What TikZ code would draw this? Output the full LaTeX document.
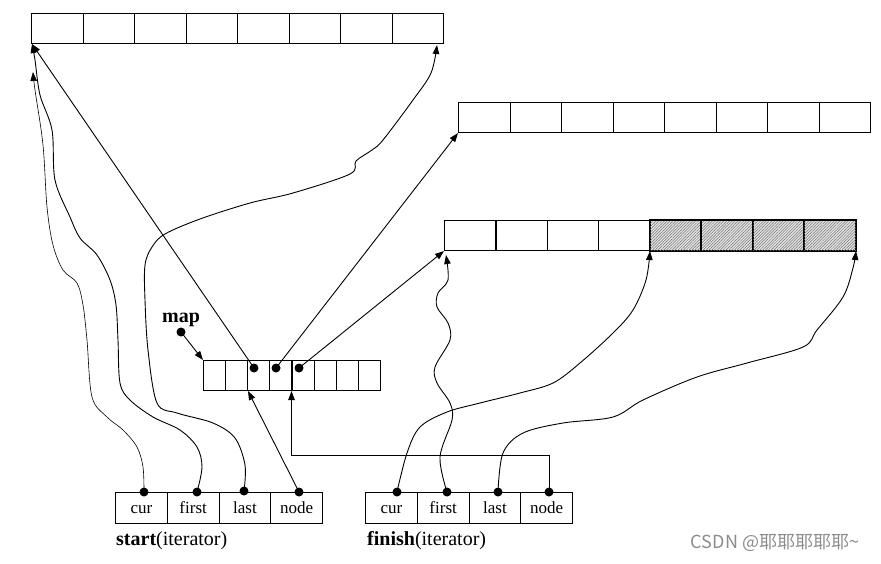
\documentclass[tikz,border=0pt]{standalone}
\usepackage{fontspec}
\setmainfont{Liberation Serif}
\newfontfamily\cjkfont{Noto Sans CJK SC}
\usetikzlibrary{arrows.meta,patterns.meta}
\begin{document}
\begin{tikzpicture}[x=1pt,y=-1pt,
  cell/.style={draw,line width=1.1pt,inner sep=0pt,anchor=north west,minimum height=30pt},
  bigcell/.style={cell,minimum width=51.5pt},
  mapcell/.style={cell,minimum width=22.1pt},
  itcell/.style={cell,minimum width=51.75pt,minimum height=31pt,text height=12pt,text depth=1pt,font=\fontsize{17}{19}\selectfont},
  hatch/.style={pattern={Lines[angle=45,distance=2pt,line width=0.5pt]},pattern color=black!55},
  tip/.style={-{Triangle[length=9pt,width=6.5pt]}},
  link/.style={line width=0.9pt,tip},
  thinlink/.style={line width=0.6pt,tip},
  dot/.style={fill=black,circle,inner sep=0pt,minimum size=9pt},
  lab/.style={font=\fontsize{20}{22}\selectfont,inner sep=0pt}
]
\useasboundingbox (0,0) rectangle (881,563);
% buffers
\foreach \i in {1,...,8}{
  \node[bigcell] (a\i) at ({31+51.5*(\i-1)},13) {};
  \node[bigcell] (b\i) at ({458+51.5*(\i-1)},102) {};
}
\foreach \i in {1,...,4}{
  \node[bigcell,minimum width=51.4pt] (c\i) at ({444+51.4*(\i-1)},220) {};
}
\foreach \i in {5,...,8}{
  \node[bigcell,minimum width=51.4pt,fill=black!10] (c\i) at ({444+51.4*(\i-1)},220) {};
  \fill[hatch] (c\i.north west) rectangle (c\i.south east);
  \draw[line width=1.1pt] (c\i.north west) rectangle (c\i.south east);
}
% map
\foreach \i in {1,...,8}{
  \node[mapcell] (m\i) at ({203+22.1*(\i-1)},360) {};
}
% iterators
\foreach \t [count=\i] in {cur,first,last,node}{
  \node[itcell] (s\i) at ({115+51.75*(\i-1)},492) {\t};
  \node[itcell] (f\i) at ({365+51.75*(\i-1)},492) {\t};
}
\node[lab,anchor=base west] (slab) at (116,545) {\textbf{start}(iterator)};
\node[lab,anchor=base west] (flab) at (367,545) {\textbf{finish}(iterator)};
\node[lab,font=\fontsize{20}{22}\selectfont\bfseries] (maplab) at (181,320) {map};
\node[inner sep=0pt,text=black!45,font=\fontsize{18}{20}\cjkfont] (wm) at (775,543) {CSDN @耶耶耶耶耶\textasciitilde};
% dots
\node[dot] (mapdot) at (181,332) {};
\node[dot] (d3) at (254,368) {};
\node[dot] (d4) at (276,368) {};
\node[dot] (d5) at (299,368) {};
\node[dot] (sd1) at (144,492) {};
\node[dot] (sd2) at (197,492) {};
\node[dot] (sd3) at (244,491) {};
\node[dot] (sd4) at (299,492) {};
\node[dot] (fd1) at (397,492) {};
\node[dot] (fd2) at (447,492) {};
\node[dot] (fd3) at (498,492) {};
\node[dot] (fd4) at (549,492) {};
% arrow targets
\coordinate (a1bl) at (32,44);
\coordinate (a1lo) at (33,72);
\coordinate (a8br) at (437,45);
\coordinate (b1bl) at (458,133);
\coordinate (c1bl) at (444,251);
\coordinate (c1lo) at (446,255);
\coordinate (c4br) at (650,251);
\coordinate (c8br) at (856,251);
\coordinate (mapc) at (203,360);
\coordinate (mb23) at (248,391);
\coordinate (mb45) at (291.5,391);
\coordinate (elbow) at (549,455);
% straight connectors
\draw[link] (mapdot.center) -- (mapc);
\draw[link] (d3.center) -- (a1bl);
\draw[link] (d4.center) -- (b1bl);
\draw[link] (d5.center) -- (c1bl);
\draw[link] (sd4.center) -- (mb23);
\draw[link] (fd4.center) -- (elbow) -| (mb45);
% wavy curves from start
\draw[thinlink] plot[smooth,tension=0.55] coordinates {(sd1.center) (143,467) (137,447) (123,430) (107,417) (92,397) (87,340) (83,305) (77,283) (63,270) (53,245) (47,207) (43,145) (35,90) (a1lo)};
\draw[link] plot[smooth,tension=0.55] coordinates {(sd2.center) (202,467) (197,447) (180,430) (153,417) (130,400) (120,383) (118,340) (116,305) (110,280) (97,255) (80,238) (70,217) (55,180) (52,130) (40,95) (35,60) (a1bl)};
\draw[link] plot[smooth,tension=0.55] coordinates {(sd3.center) (245,465) (235,438) (213,423) (177,413) (157,403) (148,350) (145,300) (145,265) (152,247) (165,234) (200,219) (250,203) (293,193) (350,174) (356,161) (372,150) (383,140) (413,100) (431,73) (a8br)};
% wavy curves from finish
\draw[link] plot[smooth,tension=0.55] coordinates {(fd1.center) (407,453) (420,427) (447,412) (480,403) (520,393) (553,383) (580,363) (613,333) (633,310) (646,280) (c4br)};
\draw[link] plot[smooth,tension=0.55] coordinates {(fd2.center) (440,457) (452,420) (450,403) (437,383) (435,367) (450,340) (448,323) (437,307) (438,293) (448,280) (c1lo)};
\draw[link] plot[smooth,tension=0.55] coordinates {(fd3.center) (503,453) (523,433) (563,423) (613,417) (643,400) (697,377) (747,363) (803,347) (817,330) (843,297) (853,268) (c8br)};
\end{tikzpicture}
\end{document}
